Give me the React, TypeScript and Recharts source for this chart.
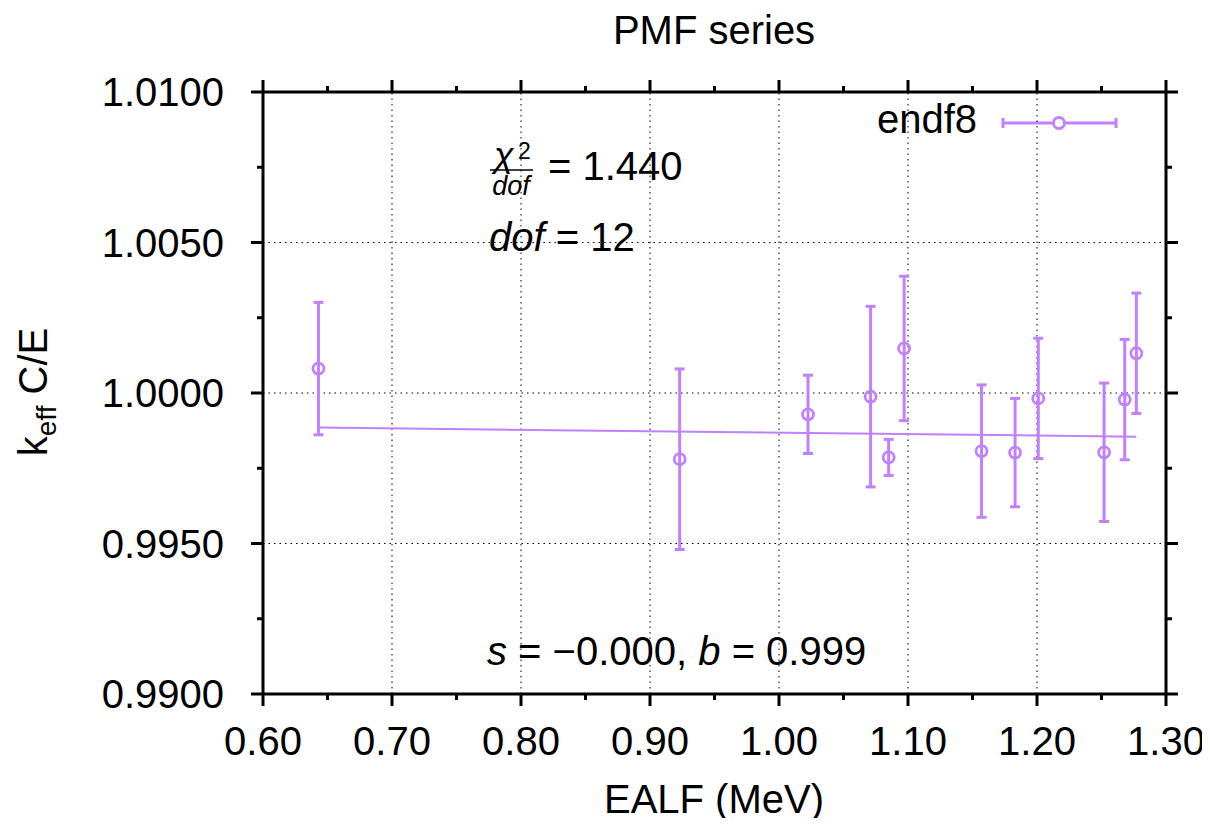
import React from "react"
import {
  ComposedChart,
  Scatter,
  Line,
  XAxis,
  YAxis,
  ErrorBar,
  ReferenceLine,
  Customized,
} from "recharts"

// measured values (EALF in MeV, k_eff C/E, 1-sigma)
const ealf = [0.643, 0.923, 1.0225, 1.071, 1.085, 1.097, 1.157, 1.183, 1.201, 1.252, 1.268, 1.277]
const ce = [1.00081, 0.9978, 0.99929, 0.99988, 0.99786, 1.00148, 0.99807, 0.99802, 0.99982, 0.99803, 0.99978, 1.00132]
const sigma = [0.0022, 0.003, 0.0013, 0.003, 0.0006, 0.0024, 0.0022, 0.0018, 0.002, 0.0023, 0.002, 0.002]

// linear fit endpoints
const fitX = [0.643, 1.277]
const fitY = [0.99885, 0.99855]

const xTicks = [0.6, 0.65, 0.7, 0.75, 0.8, 0.85, 0.9, 0.95, 1.0, 1.05, 1.1, 1.15, 1.2, 1.25, 1.3]
const yTicks = [0.99, 0.9925, 0.995, 0.9975, 1.0, 1.0025, 1.005, 1.0075, 1.01]
const xGrid = [0.7, 0.8, 0.9, 1.0, 1.1, 1.2]
const yGrid = [0.995, 1.0, 1.005]

const seriesName = "endf8"
const chiText = "= 1.440"
const dofValue = "= 12"

const points = ealf.map((x, i) => ({ x, y: ce[i], err: sigma[i] }))
const fit = fitX.map((x, i) => ({ x, y: fitY[i] }))

const PURPLE = "#c080ff"
const FONT = "'Liberation Sans', Arial, Helvetica, sans-serif"

const W = 1194
const H = 810
const PL = 255
const PR = 1158
const PT = 84
const PB = 686

const MAJOR = 12
const MINOR = 6

function BottomTick(props: any) {
  const { x, index } = props
  const major = index % 2 === 0
  return (
    <g>
      <line x1={x} x2={x} y1={PB} y2={PB + (major ? MAJOR : MINOR)} stroke="#000" strokeWidth={3} />
      {major && (
        <text x={x} y={747} textAnchor="middle" fontSize={40} fontFamily={FONT} fill="#000">
          {xTicks[index].toFixed(2)}
        </text>
      )}
    </g>
  )
}

function TopTick(props: any) {
  const { x, index } = props
  const major = index % 2 === 0
  return <line x1={x} x2={x} y1={PT} y2={PT - (major ? MAJOR : MINOR)} stroke="#000" strokeWidth={3} />
}

function LeftTick(props: any) {
  const { y, index } = props
  const major = index % 2 === 0
  return (
    <g>
      <line x1={PL - (major ? MAJOR : MINOR)} x2={PL} y1={y} y2={y} stroke="#000" strokeWidth={3} />
      {major && (
        <text x={216} y={y + 14} textAnchor="end" fontSize={40} fontFamily={FONT} fill="#000">
          {yTicks[index].toFixed(4)}
        </text>
      )}
    </g>
  )
}

function RightTick(props: any) {
  const { y, index } = props
  const major = index % 2 === 0
  return <line x1={PR} x2={PR + (major ? MAJOR : MINOR)} y1={y} y2={y} stroke="#000" strokeWidth={3} />
}

function OpenCircle(props: any) {
  const { cx, cy } = props
  return <circle cx={cx} cy={cy} r={5.5} fill="none" stroke={PURPLE} strokeWidth={2.8} />
}

function Overlay() {
  return (
    <g fontFamily={FONT} fill="#000">
      <text x={706} y={36} textAnchor="middle" fontSize={40}>PMF series</text>
      <text x={706} y={805} textAnchor="middle" fontSize={40}>EALF (MeV)</text>
      <text x={39} y={384} textAnchor="middle" fontSize={40} transform="rotate(-90 39 384)">
        k<tspan dy={9} fontSize={28}>eff</tspan>
        <tspan dy={-9}> C/E</tspan>
      </text>

      {/* chi^2 / dof */}
      <text x={486} y={159} fontSize={36} fontStyle="italic">χ</text>
      <text x={510} y={151} fontSize={23}>2</text>
      <line x1={482} x2={525} y1={162} y2={162} stroke="#000" strokeWidth={1.5} />
      <text x={503} y={187} textAnchor="middle" fontSize={27} fontStyle="italic">dof</text>
      <text x={540} y={172} fontSize={40}>{chiText}</text>

      <text x={481} y={243} fontSize={40}>
        <tspan fontStyle="italic">dof</tspan> {dofValue}
      </text>

      <text x={479} y={657} fontSize={40}>
        <tspan fontStyle="italic">s</tspan> = −0.000, <tspan fontStyle="italic">b</tspan> = 0.999
      </text>

      {/* legend */}
      <text x={969} y={125} textAnchor="end" fontSize={40}>{seriesName}</text>
      <g stroke={PURPLE} strokeWidth={3}>
        <line x1={995} x2={1108} y1={115} y2={115} />
        <line x1={995} x2={995} y1={110} y2={120} />
        <line x1={1108} x2={1108} y1={110} y2={120} />
      </g>
      <circle cx={1051} cy={115} r={5.5} fill="#fff" stroke={PURPLE} strokeWidth={2.8} />
    </g>
  )
}

export default function App() {
  return (
    <div style={{ width: W, height: H, background: "#fff" }}>
      <style>{`.recharts-surface { overflow: visible; } .recharts-wrapper { overflow: visible; }`}</style>
      <ComposedChart
        width={W}
        height={H}
        margin={{ top: PT - 30, right: W - PR - 30, bottom: H - PB - 60, left: PL - 60 }}
      >
        <XAxis
          xAxisId={0}
          dataKey="x"
          type="number"
          domain={[0.6, 1.3]}
          ticks={xTicks}
          interval={0}
          allowDataOverflow
          height={60}
          tickLine={false}
          axisLine={{ stroke: "#000", strokeWidth: 3 }}
          tick={<BottomTick />}
        />
        <XAxis
          xAxisId="top"
          orientation="top"
          dataKey="x"
          type="number"
          domain={[0.6, 1.3]}
          ticks={xTicks}
          interval={0}
          allowDataOverflow
          height={30}
          tickLine={false}
          axisLine={{ stroke: "#000", strokeWidth: 3 }}
          tick={<TopTick />}
        />
        <YAxis
          yAxisId={0}
          type="number"
          domain={[0.99, 1.01]}
          ticks={yTicks}
          interval={0}
          allowDataOverflow
          width={60}
          tickLine={false}
          axisLine={{ stroke: "#000", strokeWidth: 3 }}
          tick={<LeftTick />}
        />
        <YAxis
          yAxisId="right"
          orientation="right"
          type="number"
          domain={[0.99, 1.01]}
          ticks={yTicks}
          interval={0}
          allowDataOverflow
          width={30}
          tickLine={false}
          axisLine={{ stroke: "#000", strokeWidth: 3 }}
          tick={<RightTick />}
        />

        {xGrid.map((v) => (
          <ReferenceLine key={`gx${v}`} x={v} stroke="#000" strokeWidth={1} strokeDasharray="1.5 4" />
        ))}
        {yGrid.map((v) => (
          <ReferenceLine key={`gy${v}`} y={v} stroke="#000" strokeWidth={1} strokeDasharray="1.5 4" />
        ))}

        <Line
          data={fit}
          dataKey="y"
          stroke={PURPLE}
          strokeWidth={2}
          dot={false}
          activeDot={false}
          isAnimationActive={false}
          legendType="none"
        />
        <Scatter data={points} dataKey="y" shape={<OpenCircle />} isAnimationActive={false}>
          <ErrorBar dataKey="err" direction="y" width={5} stroke={PURPLE} strokeWidth={3} isAnimationActive={false} />
        </Scatter>

        <Customized component={Overlay} />
      </ComposedChart>
    </div>
  )
}
